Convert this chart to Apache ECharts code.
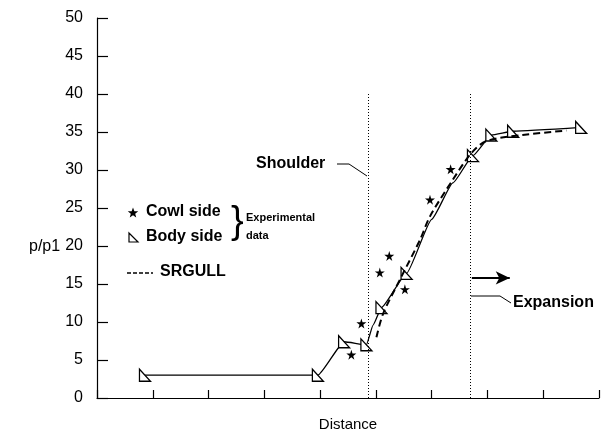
<!DOCTYPE html>
<html>
<head>
<meta charset="utf-8">
<script src="https://cdn.jsdelivr.net/npm/echarts@6/dist/echarts.min.js"></script>
<style>
html, body { margin: 0; padding: 0; background: #fff; }
#chart { width: 609px; height: 431px; }
</style>
</head>
<body>
<div id="chart"></div>
<script>
// body side (triangles)
var bodyX = [0.86, 3.96, 4.43, 4.83, 5.10, 5.55, 6.74, 7.07, 7.46, 8.68];
var bodyY = [3.0, 3.0, 7.4, 7.0, 11.9, 16.4, 31.9, 34.6, 35.1, 35.6];
// faired solid curve through the body side points
var solidX = [0.86, 3.96, 4.43, 4.83, 4.95, 5.10, 5.55, 6.00, 6.38, 6.74, 7.07, 7.46, 8.68];
var solidY = [3.0, 3.0, 7.4, 7.0, 9.6, 11.9, 16.4, 23.5, 28.3, 31.9, 34.6, 35.1, 35.6];
// cowl side (stars)
var cowlX = [4.56, 4.74, 5.07, 5.24, 5.52, 5.97, 6.34];
var cowlY = [5.7, 9.8, 16.5, 18.7, 14.3, 26.1, 30.1];
// SRGULL prediction (dashed)
var srgullX = [5.01, 5.13, 5.46, 5.79, 5.97, 6.36, 6.71, 6.98, 7.63, 8.42];
var srgullY = [8.0, 11.1, 16.0, 20.8, 23.9, 28.5, 32.2, 33.8, 34.6, 35.2];
// shoulder / expansion positions
var shoulderX = 4.86;
var expansionX = 6.70;

var font = '"Liberation Sans", Arial, Helvetica, sans-serif';
var triPath = 'path://M0,0 L0,10 L10,10 Z';
var starPath = 'path://M50,0 L61,35 L98,35 L68,57 L79,91 L50,70 L21,91 L32,57 L2,35 L39,35 Z';

function pairs(xs, ys) {
    return xs.map(function (x, i) { return [x, ys[i]]; });
}

// star outline for the legend glyph
function starPoints(cx, cy, r) {
    var pts = [];
    for (var i = 0; i < 10; i++) {
        var a = -Math.PI / 2 + i * Math.PI / 5;
        var rr = i % 2 === 0 ? r : r * 0.42;
        pts.push([cx + rr * Math.cos(a), cy + rr * Math.sin(a)]);
    }
    return pts;
}

var myChart = echarts.init(document.getElementById('chart'));
var option = {
    animation: false,
    backgroundColor: '#fff',
    grid: { left: 97, right: 10, top: 18, bottom: 33, outerBoundsMode: 'none' },
    xAxis: {
        type: 'value',
        min: 0, max: 9, interval: 1,
        name: 'Distance',
        nameLocation: 'middle',
        nameGap: 19,
        nameTextStyle: { fontFamily: font, fontSize: 15, color: '#000' },
        axisLine: { lineStyle: { color: '#000', width: 1.2 } },
        axisTick: { inside: true, length: 8, lineStyle: { color: '#000', width: 1.2 } },
        axisLabel: { show: false },
        splitLine: { show: false }
    },
    yAxis: {
        type: 'value',
        min: 0, max: 50, interval: 5,
        axisLine: { show: true, lineStyle: { color: '#000', width: 1.2 } },
        axisTick: { show: true, inside: true, length: 11, lineStyle: { color: '#000', width: 1.2 } },
        axisLabel: { fontFamily: font, fontSize: 16, color: '#000', margin: 14 },
        splitLine: { show: false }
    },
    series: [{
        name: 'Body curve',
        type: 'line',
        data: pairs(solidX, solidY),
        smooth: 0.15,
        smoothMonotone: 'x',
        showSymbol: false,
        lineStyle: { color: '#000', width: 1.3 },
        z: 2,
        markLine: {
            silent: true,
            symbol: 'none',
            label: { show: false },
            lineStyle: { color: '#000', type: [1, 2], width: 1 },
            data: [
                [{ coord: [shoulderX, 0] }, { coord: [shoulderX, 40] }],
                [{ coord: [expansionX, 0] }, { coord: [expansionX, 40] }]
            ]
        }
    }, {
        name: 'Body side',
        type: 'scatter',
        data: pairs(bodyX, bodyY),
        symbol: triPath,
        symbolSize: [11, 12],
        itemStyle: { color: '#fff', borderColor: '#000', borderWidth: 1.3, opacity: 1 },
        z: 3
    }, {
        name: 'SRGULL',
        type: 'line',
        data: pairs(srgullX, srgullY),
        smooth: 0.3,
        showSymbol: false,
        lineStyle: { color: '#000', width: 2, type: [7, 4] },
        z: 4,
        markLine: {
            silent: true,
            symbol: ['none', 'arrow'],
            symbolSize: [10, 14],
            label: { show: false },
            lineStyle: { color: '#000', type: 'solid', width: 2 },
            data: [
                [{ coord: [expansionX + 0.02, 15.8] }, { coord: [7.4, 15.8] }]
            ]
        }
    }, {
        name: 'Cowl side',
        type: 'scatter',
        data: pairs(cowlX, cowlY),
        symbol: starPath,
        symbolSize: 10,
        itemStyle: { color: '#000', opacity: 1 },
        z: 5
    }],
    graphic: [
        // y axis name
        { type: 'text', left: 29, top: 239, style: { text: 'p/p1', font: '16px ' + font, fill: '#000' } },
        // legend
        { type: 'polygon', shape: { points: starPoints(133, 213, 5.5) }, style: { fill: '#000' } },
        { type: 'text', left: 146, top: 204, style: { text: 'Cowl side', font: 'bold 16px ' + font, fill: '#000' } },
        { type: 'polygon', shape: { points: [[129, 233], [129, 242], [138, 242]] }, style: { fill: '#fff', stroke: '#000', lineWidth: 1.2 } },
        { type: 'text', left: 146, top: 229, style: { text: 'Body side', font: 'bold 16px ' + font, fill: '#000' } },
        { type: 'text', left: 231, top: 204, style: { text: '}', font: '38px ' + font, fill: '#000' } },
        { type: 'text', left: 246, top: 212, style: { text: 'Experimental', font: 'bold 11px ' + font, fill: '#000' } },
        { type: 'text', left: 246, top: 230, style: { text: 'data', font: 'bold 11px ' + font, fill: '#000' } },
        { type: 'line', shape: { x1: 127, y1: 273, x2: 153, y2: 273 }, style: { stroke: '#000', lineWidth: 1.6, lineDash: [4, 2] } },
        { type: 'text', left: 160, top: 264, style: { text: 'SRGULL', font: 'bold 16px ' + font, fill: '#000' } },
        // annotations
        { type: 'text', left: 256, top: 156, style: { text: 'Shoulder', font: 'bold 16px ' + font, fill: '#000' } },
        { type: 'polyline', shape: { points: [[337, 164], [349, 164], [367, 176]] }, style: { stroke: '#000', lineWidth: 1, fill: null } },
        { type: 'polyline', shape: { points: [[471, 296], [500, 296], [511, 303]] }, style: { stroke: '#000', lineWidth: 1, fill: null } },
        { type: 'text', left: 513, top: 295, style: { text: 'Expansion', font: 'bold 16px ' + font, fill: '#000' } }
    ]
};
option && myChart.setOption(option);
</script>
</body>
</html>
